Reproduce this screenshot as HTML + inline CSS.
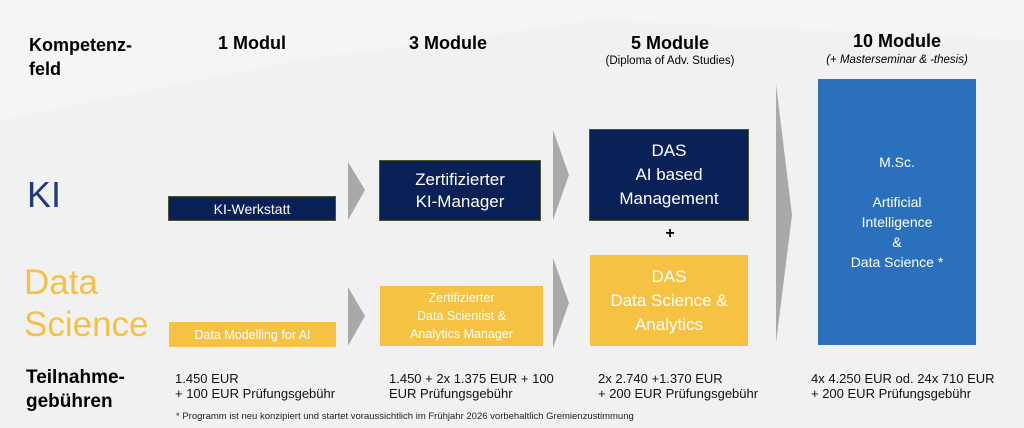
<!DOCTYPE html>
<html><head><meta charset="utf-8"><style>
body{margin:0;width:1024px;height:428px;overflow:hidden;background:#f1f1f1;font-family:"Liberation Sans",sans-serif;position:relative}
.a{position:absolute}
.h{font-weight:bold;font-size:18px;color:#000;text-align:center}
.box{position:absolute;display:flex;align-items:center;justify-content:center;text-align:center;color:#fff;box-sizing:border-box}
.n{background:#0a2158;border:1.5px solid #4a5530}
.y{background:#f6c244}
.p{font-size:13px;line-height:15px;color:#111}
</style></head><body>
<svg class="a" style="left:0;top:0" width="1024" height="428">
<polygon points="0,0 1024,0 1024,40 600,20 300,60 0,120" fill="#f5f5f5"/>
<polygon points="348,162 365,190 348,220" fill="#a9a9a9"/>
<polygon points="553,130 569,175 553,220" fill="#a9a9a9"/>
<polygon points="348,287 365,316 348,346" fill="#a9a9a9"/>
<polygon points="553,258 569,303 553,348" fill="#a9a9a9"/>
<polygon points="776,84 792,215 776,343" fill="#a9a9a9"/>
</svg>
<div class="a" style="left:29px;top:33px;font-weight:bold;font-size:18px;line-height:24px">Kompetenz-<br>feld</div>
<div class="a h" style="left:192px;top:33px;width:120px">1 Modul</div>
<div class="a h" style="left:388px;top:33px;width:120px">3 Module</div>
<div class="a h" style="left:590px;top:33px;width:160px">5 Module</div>
<div class="a" style="left:570px;top:55px;width:200px;text-align:center;font-size:11.5px">(Diploma of Adv. Studies)</div>
<div class="a h" style="left:817px;top:31px;width:160px">10 Module</div>
<div class="a" style="left:797px;top:54px;width:200px;text-align:center;font-size:11.5px;font-style:italic">(+ Masterseminar &amp; -thesis)</div>
<div class="a" style="left:27px;top:174px;font-size:36px;color:#1f3b7a">KI</div>
<div class="a" style="left:24px;top:262px;font-size:35px;line-height:42px;color:#f5c143">Data<br>Science</div>
<div class="box n" style="left:168px;top:196px;width:168px;height:25px;font-size:14px">KI-Werkstatt</div>
<div class="box n" style="left:379px;top:160px;width:162px;height:61px;font-size:17px;line-height:22px">Zertifizierter<br>KI-Manager</div>
<div class="box n" style="left:589px;top:129px;width:160px;height:92px;font-size:17px;line-height:24px">DAS<br>AI based<br>Management</div>
<div class="a" style="left:660px;top:225px;width:20px;text-align:center;font-weight:bold;font-size:16px">+</div>
<div class="box" style="left:818px;top:79px;width:158px;height:266px;background:#2a70bc;font-size:14px;line-height:20px">M.Sc.<br><br>Artificial<br>Intelligence<br>&amp;<br>Data Science *</div>
<div class="box y" style="left:169px;top:322px;width:167px;height:25px;font-size:12.5px">Data Modelling for AI</div>
<div class="box y" style="left:380px;top:286px;width:163px;height:60px;font-size:12.5px;line-height:18px">Zertifizierter<br>Data Scientist &amp;<br>Analytics Manager</div>
<div class="box y" style="left:590px;top:255px;width:158px;height:91px;font-size:17px;line-height:24px">DAS<br>Data Science &amp;<br>Analytics</div>
<div class="a" style="left:26px;top:366px;font-weight:bold;font-size:19px;line-height:24px">Teilnahme-<br>gebühren</div>
<div class="a p" style="left:175px;top:371px">1.450 EUR<br>+ 100 EUR Prüfungsgebühr</div>
<div class="a p" style="left:389px;top:371px">1.450 + 2x 1.375 EUR + 100<br>EUR Prüfungsgebühr</div>
<div class="a p" style="left:598px;top:371px">2x 2.740 +1.370 EUR<br>+ 200 EUR Prüfungsgebühr</div>
<div class="a p" style="left:811px;top:371px">4x 4.250 EUR od. 24x 710 EUR<br>+ 200 EUR Prüfungsgebühr</div>
<div class="a" style="left:176px;top:411px;font-size:9.5px;color:#222">* Programm ist neu konzipiert und startet voraussichtlich im Frühjahr 2026 vorbehaltlich Gremienzustimmung</div>
</body></html>
